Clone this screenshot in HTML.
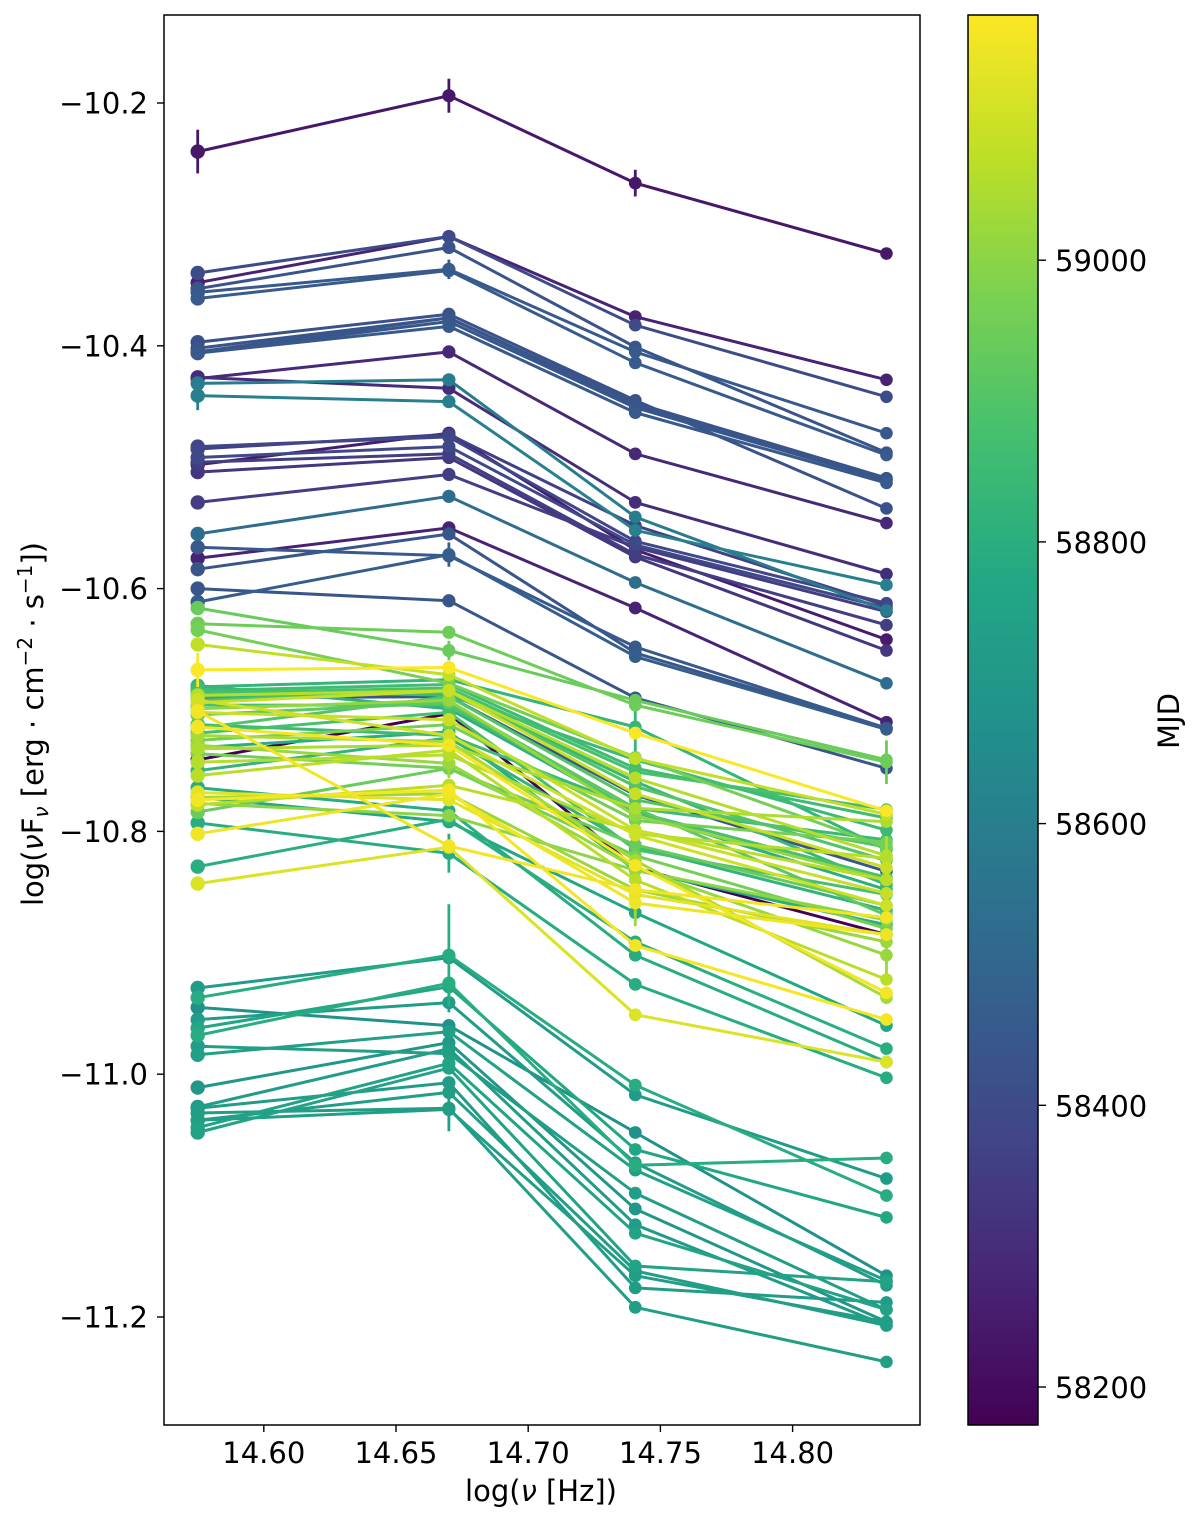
<!DOCTYPE html>
<html lang="en">
<head>
<meta charset="utf-8">
<title>Spectral energy distributions by MJD</title>
<style>
html,body{margin:0;padding:0;background:#fff;}
svg{display:block;}
text{font-family:"DejaVu Sans","Liberation Sans",sans-serif;fill:#000;}
</style>
</head>
<body>
<svg id="chart" xmlns="http://www.w3.org/2000/svg" width="1200" height="1523" viewBox="0 0 1200 1523">
  <defs>
    <linearGradient id="viridis-gradient" x1="0" y1="1" x2="0" y2="0"></linearGradient>
  </defs>
  <rect x="0" y="0" width="1200" height="1523" fill="#ffffff"></rect>
  <g id="series-layer"></g>
  <rect x="164" y="15" width="756" height="1410" fill="none" stroke="#000" stroke-width="1.5"></rect>
  <g id="axis-layer"></g>
  <text x="541" y="1501" text-anchor="middle" font-size="29">log(<tspan font-style="italic">ν</tspan> [Hz])</text>
  <text transform="translate(43,724) rotate(-90)" text-anchor="middle" font-size="29">log(<tspan font-style="italic">ν</tspan>F<tspan dy="5" font-size="20" font-style="italic">ν</tspan><tspan dy="-5"> [erg · cm</tspan><tspan dy="-11" font-size="20">−2</tspan><tspan dy="11"> · s</tspan><tspan dy="-11" font-size="20">−1</tspan><tspan dy="11">])</tspan></text>
  <rect x="968" y="15" width="70" height="1410" fill="url(#viridis-gradient)" stroke="#000" stroke-width="1.5"></rect>
  <g id="colorbar-layer"></g>
  <text transform="translate(1179,721) rotate(-90)" text-anchor="middle" font-size="29">MJD</text>
</svg>
<script>
const bandFrequencies = [14.575, 14.67, 14.7405, 14.8355];

const mjdValues = [58240,
58400,58270,58430,58450,58460,58420,58430,58440,58440,58450,58290,58590,58600,58300,58380,58360,58250,58390,58350,58330,58350,58530,58450,58270,58440,58470,58440,
58950,58940,58960,59080,59170,58830,58860,58880,59060,58840,
58440,58900,59090,58880,59010,59155,59090,59150,58175,58800,
58790,58790,58770,59120,59160,59070,59160,59040,59020,58820,
58960,59020,58900,58960,59050,59060,59070,58940,58880,58920,
58810,58850,58850,58800,59130,59000,59100,
58790,58720,58770,58790,58680,58720,58740,58730,58700,58720,58750,58750,58730,58720,58730,58730];

const fluxBand1 = [-10.240,
-10.340,-10.348,-10.353,-10.356,-10.361,-10.397,-10.402,-10.405,-10.406,-10.406,-10.427,-10.431,-10.441,-10.426,-10.483,-10.485,-10.498,-10.492,-10.496,-10.504,-10.529,-10.555,-10.566,-10.575,-10.584,-10.611,-10.600,
-10.629,-10.616,-10.634,-10.646,-10.667,-10.681,-10.684,-10.686,-10.688,-10.689,
-10.690,-10.692,-10.694,-10.696,-10.699,-10.701,-10.702,-10.802,-10.741,-10.829,
-10.764,-10.793,-10.772,-10.843,-10.774,-10.754,-10.714,-10.721,-10.729,-10.750,
-10.736,-10.772,-10.715,-10.725,-10.732,-10.743,-10.778,-10.784,-10.719,-10.704,
-10.680,-10.683,-10.712,-10.731,-10.768,-10.777,-10.692,
-10.937,-10.929,-10.962,-10.968,-10.945,-10.955,-10.984,-10.977,-11.011,-11.027,-11.044,-11.048,-11.038,-11.028,-11.032,-11.038];

const fluxBand2 = [-10.194,
-10.310,-10.310,-10.319,-10.337,-10.338,-10.374,-10.377,-10.377,-10.380,-10.384,-10.405,-10.428,-10.446,-10.435,-10.475,-10.473,-10.472,-10.483,-10.489,-10.492,-10.506,-10.524,-10.573,-10.550,-10.555,-10.572,-10.610,
-10.636,-10.651,-10.678,-10.671,-10.665,-10.675,-10.679,-10.682,-10.684,-10.686,
-10.689,-10.685,-10.684,-10.696,-10.692,-10.812,-10.708,-10.769,-10.703,-10.790,
-10.783,-10.818,-10.792,-10.813,-10.766,-10.733,-10.729,-10.726,-10.744,-10.723,
-10.748,-10.769,-10.689,-10.712,-10.729,-10.737,-10.762,-10.748,-10.702,-10.694,
-10.699,-10.688,-10.721,-10.718,-10.774,-10.787,-10.721,
-10.902,-10.904,-10.928,-10.925,-10.960,-10.941,-10.965,-10.983,-10.974,-10.979,-10.991,-10.995,-11.015,-11.007,-11.028,-11.029];

const fluxBand3 = [-10.266,
-10.383,-10.376,-10.401,-10.405,-10.414,-10.445,-10.447,-10.449,-10.451,-10.455,-10.489,-10.541,-10.552,-10.529,-10.561,-10.548,-10.568,-10.564,-10.572,-10.574,-10.566,-10.595,-10.648,-10.616,-10.653,-10.656,-10.690,
-10.696,-10.692,-10.739,-10.740,-10.719,-10.714,-10.748,-10.751,-10.756,-10.759,
-10.770,-10.763,-10.769,-10.784,-10.787,-10.848,-10.799,-10.859,-10.830,-10.891,
-10.902,-10.926,-10.867,-10.951,-10.894,-10.840,-10.828,-10.824,-10.830,-10.813,
-10.820,-10.848,-10.774,-10.791,-10.781,-10.802,-10.799,-10.811,-10.815,-10.781,
-10.784,-10.741,-10.781,-10.832,-10.852,-10.832,-10.803,
-11.009,-11.017,-11.062,-11.075,-11.048,-11.073,-11.079,-11.098,-11.111,-11.124,-11.131,-11.158,-11.162,-11.176,-11.192,-11.166];

const fluxBand4 = [-10.324,
-10.442,-10.428,-10.488,-10.472,-10.490,-10.534,-10.509,-10.510,-10.511,-10.513,-10.546,-10.618,-10.597,-10.588,-10.612,-10.614,-10.642,-10.616,-10.630,-10.651,-10.619,-10.678,-10.715,-10.710,-10.715,-10.716,-10.748,
-10.743,-10.741,-10.813,-10.786,-10.783,-10.815,-10.789,-10.782,-10.820,-10.844,
-10.833,-10.824,-10.830,-10.838,-10.840,-10.871,-10.851,-10.885,-10.885,-10.979,
-10.990,-11.003,-10.960,-10.990,-10.955,-10.922,-10.933,-10.937,-10.902,-10.865,
-10.880,-10.891,-10.813,-10.809,-10.792,-10.822,-10.840,-10.861,-10.852,-10.869,
-10.848,-10.799,-10.807,-10.877,-10.885,-10.873,-10.861,
-11.100,-11.086,-11.118,-11.069,-11.166,-11.174,-11.170,-11.194,-11.204,-11.207,-11.194,-11.171,-11.207,-11.188,-11.237,-11.204];

const errorEpochs = [0,0,0,4,13,26,75,89,49,28,33,32,36,56,59,29,56,80];
const errorBands = [0,1,2,1,0,1,1,1,1,3,2,0,3,3,2,1,1,1];
const errorSizes = [0.018,0.014,0.011,0.008,0.012,0.010,0.042,0.019,0.016,0.018,0.020,0.014,0.016,0.016,0.030,0.008,0.012,0.008];

const xTickValues = [14.60, 14.65, 14.70, 14.75, 14.80];
const xTickLabels = ["14.60", "14.65", "14.70", "14.75", "14.80"];
const yTickValues = [-10.2, -10.4, -10.6, -10.8, -11.0, -11.2];
const yTickLabels = ["−10.2", "−10.4", "−10.6", "−10.8", "−11.0", "−11.2"];
const colorbarTickValues = [58200, 58400, 58600, 58800, 59000];
const colorbarTickLabels = ["58200", "58400", "58600", "58800", "59000"];
const viridisStops = ["#440154","#482475","#414487","#355f8d","#2a788e","#21918c","#22a884","#44bf70","#7ad151","#bddf26","#fde725"];
const mjdMin = 58173;
const mjdMax = 59174;

const NS = "http://www.w3.org/2000/svg";
const seriesLayer = document.getElementById("series-layer");
const axisLayer = document.getElementById("axis-layer");
const colorbarLayer = document.getElementById("colorbar-layer");
const gradient = document.getElementById("viridis-gradient");

function xScale(v) { return 263.8 + (v - 14.6) * 2644; }
function yScale(v) { return 103 + (-10.2 - v) * 1214; }
function colorbarScale(m) { return 1387 - (m - 58200) * 1.4085; }
function hexToRgb(h) { return [parseInt(h.slice(1,3),16), parseInt(h.slice(3,5),16), parseInt(h.slice(5,7),16)]; }
function viridis(t) {
  const c = Math.max(0, Math.min(1, t)) * (viridisStops.length - 1);
  const i = Math.min(Math.floor(c), viridisStops.length - 2);
  const a = hexToRgb(viridisStops[i]);
  const b = hexToRgb(viridisStops[i + 1]);
  const f = c - i;
  return "rgb(" + a.map(function (p, k) { return Math.round(p + (b[k] - p) * f); }).join(",") + ")";
}
function svgEl(tag, attrs) {
  const el = document.createElementNS(NS, tag);
  Object.keys(attrs).forEach(function (k) { el.setAttribute(k, attrs[k]); });
  return el;
}

viridisStops.forEach(function (c, i) {
  const stop = svgEl("stop", { offset: (i / (viridisStops.length - 1)), "stop-color": c });
  gradient.appendChild(stop);
});

const drawOrder = mjdValues.map(function (m, i) { return i; }).sort(function (a, b) { return mjdValues[a] - mjdValues[b]; });
const markerRadii = [7.2, 6.6, 6.4, 6.3];

drawOrder.forEach(function (idx) {
  const color = viridis((mjdValues[idx] - mjdMin) / (mjdMax - mjdMin));
  const fluxes = [fluxBand1[idx], fluxBand2[idx], fluxBand3[idx], fluxBand4[idx]];
  const group = svgEl("g", {});
  
  

  errorEpochs.forEach(function (ep, k) {
    if (ep !== idx) return;
    const band = errorBands[k];
    const bar = svgEl("line", {
      x1: xScale(bandFrequencies[band]), x2: xScale(bandFrequencies[band]),
      y1: yScale(fluxes[band] + errorSizes[k]), y2: yScale(fluxes[band] - errorSizes[k]),
      stroke: color, "stroke-width": 2.8
    });
    
    
    group.appendChild(bar);
  });

  const pts = fluxes.map(function (f, b) { return xScale(bandFrequencies[b]).toFixed(1) + "," + yScale(f).toFixed(1); }).join(" ");
  const line = svgEl("polyline", { points: pts, fill: "none", stroke: color, "stroke-width": 3, "stroke-linejoin": "round" });
  
  
  group.appendChild(line);

  fluxes.forEach(function (f, b) {
    const dot = svgEl("circle", { cx: xScale(bandFrequencies[b]), cy: yScale(f), r: markerRadii[b], fill: color });
    
    
    group.appendChild(dot);
  });
  seriesLayer.appendChild(group);
});

xTickValues.forEach(function (v, i) {
  const x = xScale(v);
  const tick = svgEl("line", { x1: x, x2: x, y1: 1425, y2: 1432, stroke: "#000", "stroke-width": 1.4 });
  
  
  axisLayer.appendChild(tick);
  const label = svgEl("text", { x: x, y: 1463, "text-anchor": "middle", "font-size": 29 });
  
  
  label.textContent = xTickLabels[i];
  axisLayer.appendChild(label);
});

yTickValues.forEach(function (v, i) {
  const y = yScale(v);
  const tick = svgEl("line", { x1: 157, x2: 164, y1: y, y2: y, stroke: "#000", "stroke-width": 1.4 });
  
  
  axisLayer.appendChild(tick);
  const label = svgEl("text", { x: 148, y: y + 10.5, "text-anchor": "end", "font-size": 29 });
  
  
  label.textContent = yTickLabels[i];
  axisLayer.appendChild(label);
});

colorbarTickValues.forEach(function (v, i) {
  const y = colorbarScale(v);
  const tick = svgEl("line", { x1: 1038, x2: 1046, y1: y, y2: y, stroke: "#000", "stroke-width": 1.4 });
  
  
  colorbarLayer.appendChild(tick);
  const label = svgEl("text", { x: 1055, y: y + 11, "font-size": 29 });
  
  
  label.textContent = colorbarTickLabels[i];
  colorbarLayer.appendChild(label);
});
</script>
</body>
</html>
